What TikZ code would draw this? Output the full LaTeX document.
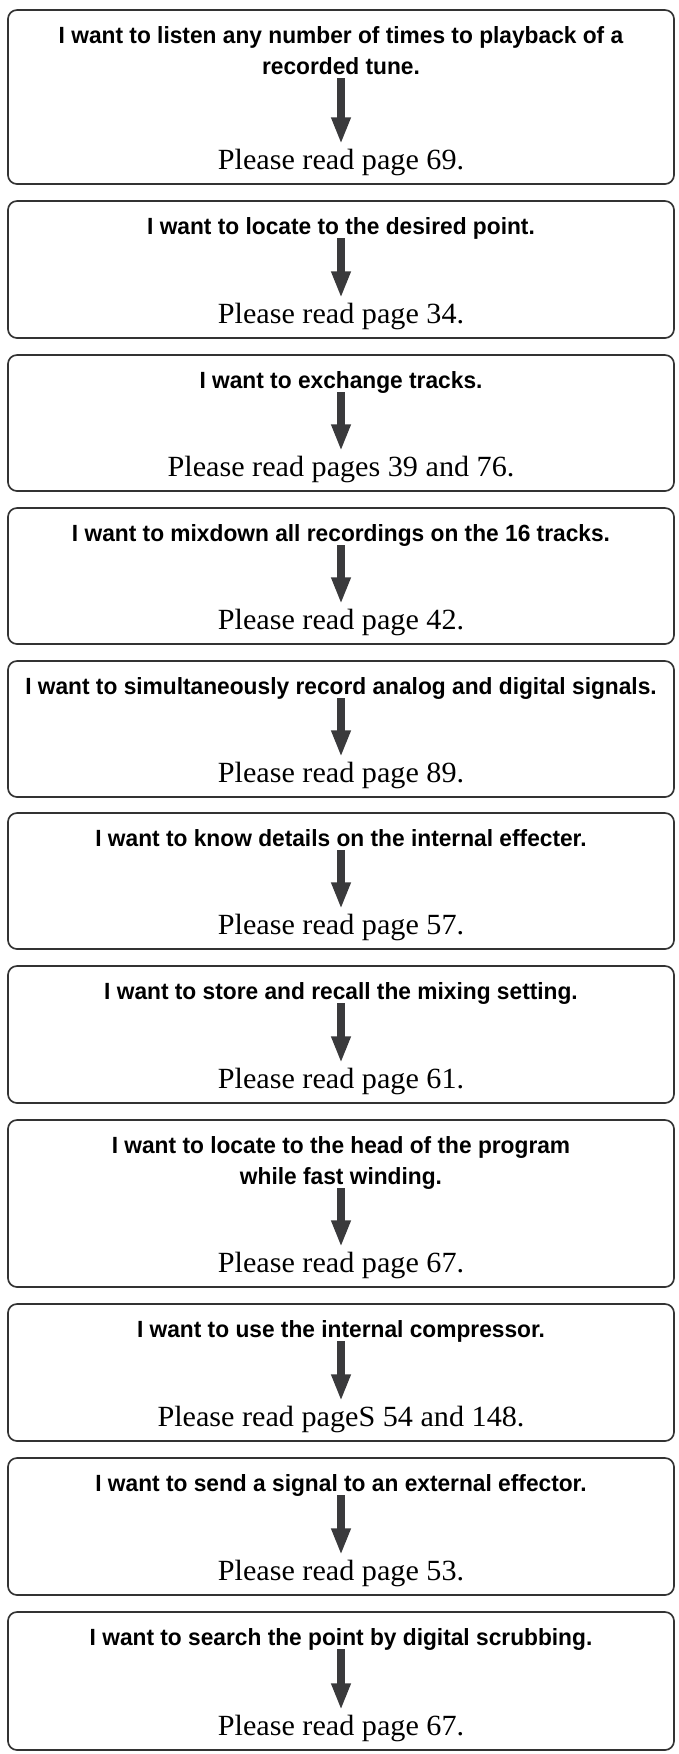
\documentclass[tikz,border=0pt]{standalone}
\usepackage{fontspec}
\newfontfamily\askfont{Liberation Sans}[FakeStretch=0.97]
\newfontfamily\pagefont{Liberation Serif}[FakeStretch=1.03]
\usetikzlibrary{arrows.meta}
\definecolor{framegray}{HTML}{333333}
\definecolor{arrowgray}{HTML}{3A3A3C}

\begin{document}
\begin{tikzpicture}[x=0.03cm, y=-0.03cm,
  tunebox/.style={draw=framegray, line width=0.05cm, rounded corners=0.27cm,
    minimum width=19.98cm, inner sep=0pt},
  askline/.style={font=\askfont\bfseries\fontsize{20}{26.5}\selectfont,
    align=center, inner sep=0pt, text depth=0pt, anchor=south},
  pageline/.style={font=\pagefont\fontsize{25}{30}\selectfont, inner sep=0pt, anchor=base},
  downarrow/.style={draw=arrowgray, line width=0.24cm,
    -{Triangle[width=0.54cm, length=0.8cm]}}]

\useasboundingbox (0,0) rectangle (679,1754);

% one box per question: index/top/bottom/title lines/question/answer
\foreach \i/\ytop/\ybot/\rows/\ask/\ptext in {
  1/10/184/2/{I want to listen any number of times to playback of a\\recorded tune.}/{Please read page 69.},
  2/201/338/1/{I want to locate to the desired point.}/{Please read page 34.},
  3/355/491/1/{I want to exchange tracks.}/{Please read pages 39 and 76.},
  4/508/644/1/{I want to mixdown all recordings on the 16 tracks.}/{Please read page 42.},
  5/661/797/1/{I want to simultaneously record analog and digital signals.}/{Please read page 89.},
  6/813/949/1/{I want to know details on the internal effecter.}/{Please read page 57.},
  7/966/1103/1/{I want to store and recall the mixing setting.}/{Please read page 61.},
  8/1120/1287/2/{I want to locate to the head of the program\\while fast winding.}/{Please read page 67.},
  9/1304/1441/1/{I want to use the internal compressor.}/{Please read pageS 54 and 148.},
  10/1458/1595/1/{I want to send a signal to an external effector.}/{Please read page 53.},
  11/1612/1750/1/{I want to search the point by digital scrubbing.}/{Please read page 67.}}
{
  \node[tunebox, minimum height={(\ybot-\ytop)*0.03cm}] (box\i) at (341, {(\ytop+\ybot)/2}) {};
  \node[askline] (ask\i) at (341, {\ytop+34+31*(\rows-1)}) {\ask};
  \node[pageline] (page\i) at (341, \ybot-15) {\ptext};
  \draw[downarrow] ([yshift=-0.09cm]ask\i.south) -- ([yshift=0.75cm]page\i.base);
}

\end{tikzpicture}
\end{document}
